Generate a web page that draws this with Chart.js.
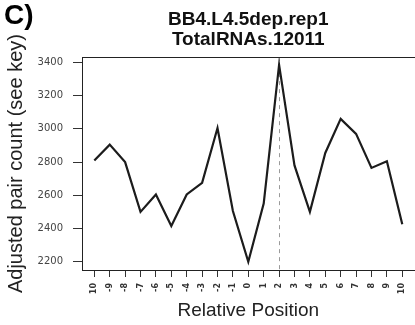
<!DOCTYPE html>
<html>
<head>
<meta charset="utf-8">
<script src="https://cdn.jsdelivr.net/npm/chart.js@4/dist/chart.umd.min.js"></script>
<style>
  html, body { margin: 0; padding: 0; background: #fff; overflow: hidden; }
  #wrap { width: 418px; height: 325px; }
</style>
</head>
<body>
<div id="wrap"><canvas id="c"></canvas></div>
<script>
// Relative positions around the site and their tick labels
const positions = [-10, -9, -8, -7, -6, -5, -4, -3, -2, -1, 0, 1, 2, 3, 4, 5, 6, 7, 8, 9, 10];
const positionLabels = ['10', '-9', '-8', '-7', '-6', '-5', '-4', '-3', '-2', '-1', '0',
                        '1', '2', '3', '4', '5', '6', '7', '8', '9', '10'];
// Adjusted pair counts per position
const pairCounts = [2810, 2905, 2800, 2500, 2605, 2415, 2605, 2675, 3005, 2505, 2200,
                    2550, 3385, 2780, 2500, 2855, 3060, 2970, 2765, 2805, 2425];
const countTicks = [2200, 2400, 2600, 2800, 3000, 3200, 3400];
const markedPosition = 2;
const titleLines = ['BB4.L4.5dep.rep1', 'TotalRNAs.12011'];
const panelTag = 'C)';

const points = positions.map((p, i) => ({ x: p, y: pairCounts[i] }));

// Box around the plot, dashed marker line and panel tag
const decorations = {
  id: 'decorations',
  beforeDatasetsDraw(chart) {
    const { ctx, chartArea: a, scales } = chart;
    const x = scales.x.getPixelForValue(markedPosition);
    ctx.save();
    ctx.strokeStyle = '#9a9a9a';
    ctx.lineWidth = 1;
    ctx.setLineDash([4, 4]);
    ctx.beginPath();
    ctx.moveTo(Math.round(x) + 0.5, a.top);
    ctx.lineTo(Math.round(x) + 0.5, a.bottom);
    ctx.stroke();
    ctx.restore();
  },
  afterDraw(chart) {
    const { ctx, chartArea: a } = chart;
    ctx.save();
    ctx.strokeStyle = '#222';
    ctx.lineWidth = 1;
    ctx.strokeRect(Math.round(a.left) + 0.5, Math.round(a.top) + 0.5,
                   Math.round(a.right - a.left), Math.round(a.bottom - a.top));
    ctx.fillStyle = '#000';
    ctx.font = 'bold 28px "Liberation Sans", Arial, sans-serif';
    ctx.textBaseline = 'alphabetic';
    ctx.textAlign = 'left';
    ctx.fillText(panelTag, 4, 24);
    ctx.restore();
  }
};

new Chart(document.getElementById('c'), {
  type: 'line',
  data: {
    datasets: [{
      data: points,
      borderColor: '#1c1c1c',
      borderWidth: 2.2,
      pointRadius: 0,
      tension: 0,
      fill: false
    }]
  },
  options: {
    responsive: true,
    maintainAspectRatio: false,
    animation: false,
    layout: { padding: 0 },
    plugins: {
      legend: { display: false },
      tooltip: { enabled: false },
      title: {
        display: true,
        text: titleLines,
        fullSize: false,
        color: '#111',
        font: { family: '"Liberation Sans", Arial, sans-serif', size: 19, weight: 'bold', lineHeight: 1.03 },
        padding: { top: 10, bottom: 8 }
      }
    },
    scales: {
      x: {
        type: 'linear',
        min: -10.8,
        max: 10.8,
        afterBuildTicks: s => { s.ticks = positions.map(v => ({ value: v })); },
        afterFit: s => { s.height = 55; },
        ticks: {
          autoSkip: false,
          minRotation: 90,
          maxRotation: 90,
          padding: 6,
          color: '#333',
          font: { family: '"DejaVu Sans", sans-serif', size: 8, weight: 'bold' },
          callback: (v, i) => positionLabels[i]
        },
        grid: { drawOnChartArea: false, drawTicks: true, tickLength: 7, color: '#333', lineWidth: 1 },
        border: { display: false },
        title: {
          display: true,
          text: 'Relative Position',
          color: '#222',
          font: { family: '"Liberation Sans", Arial, sans-serif', size: 19 },
          padding: { top: 0, bottom: 3 }
        }
      },
      y: {
        min: 2150,
        max: 3432,
        afterBuildTicks: s => { s.ticks = countTicks.map(v => ({ value: v })); },
        afterFit: s => { s.width = 82; },
        ticks: {
          padding: 10,
          color: '#444',
          font: { family: '"DejaVu Sans", sans-serif', size: 10 },
          callback: v => String(v)
        },
        grid: { drawOnChartArea: false, drawTicks: true, tickLength: 9, color: '#333', lineWidth: 1 },
        border: { display: false },
        title: {
          display: true,
          text: 'Adjusted pair count (see key)',
          color: '#222',
          font: { family: '"Liberation Sans", Arial, sans-serif', size: 20 },
          padding: { top: 4, bottom: 0 }
        }
      }
    }
  },
  plugins: [decorations]
});
</script>
</body>
</html>
